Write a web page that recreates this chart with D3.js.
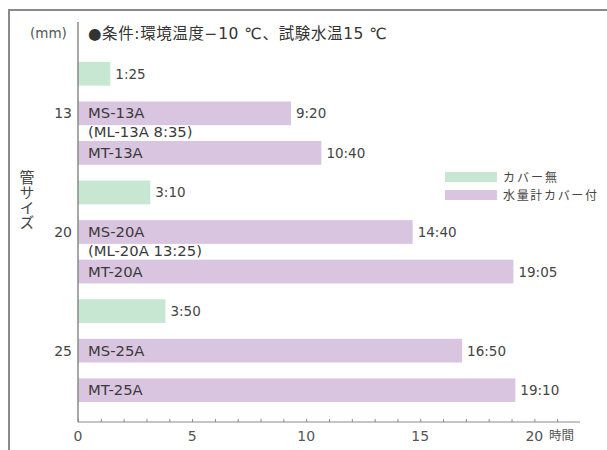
<!DOCTYPE html>
<html><head><meta charset="utf-8">
<script src="https://cdn.jsdelivr.net/npm/d3@7"></script>
<style>
html,body{margin:0;padding:0;background:#fff;}
svg{display:block;font-family:"DejaVu Sans","Noto Sans CJK JP",sans-serif;}
.cjk{font-family:"Noto Sans CJK JP",sans-serif;}
</style></head>
<body><svg id="c" width="607" height="450"></svg>
<script>
// ---- data ----
const sizes = ["13", "20", "25"];
const noCoverTimes = ["1:25", "3:10", "3:50"];
const msModels = ["MS-13A", "MS-20A", "MS-25A"];
const msTimes = ["9:20", "14:40", "16:50"];
const mlNotes = ["(ML-13A 8:35)", "(ML-20A 13:25)", ""];
const mtModels = ["MT-13A", "MT-20A", "MT-25A"];
const mtTimes = ["10:40", "19:05", "19:10"];
const majorTicks = [0, 5, 10, 15, 20];
const legendLabels = ["カバー無", "水量計カバー付"];
const titleText = "●条件:環境温度−10 ℃、試験水温15 ℃";

const toHours = s => { const [h, m] = s.split(":").map(Number); return h + m / 60; };

const rows = [];
sizes.forEach((s, i) => {
  rows.push({id: s + "-n", type: "none", time: noCoverTimes[i], name: ""});
  rows.push({id: s + "-ms", type: "cover", time: msTimes[i], name: msModels[i], note: mlNotes[i], size: s});
  rows.push({id: s + "-mt", type: "cover", time: mtTimes[i], name: mtModels[i]});
});

const svg = d3.select("#c");
const x = d3.scaleLinear().domain([0, 22]).range([78, 580]);
const y = d3.scaleBand().domain(rows.map(r => r.id)).range([54, 410]).paddingInner(0.4).paddingOuter(0.2);
const colors = {none: "#c8e7d3", cover: "#dac5e0"};

// frame
svg.append("path").attr("d", "M9,450 V10 H607").attr("fill", "none").attr("stroke", "#8a8a8a").attr("stroke-width", 2);

// bars
svg.append("g").selectAll("rect").data(rows).join("rect")
  .attr("x", x(0)).attr("y", d => y(d.id))
  .attr("width", d => x(toHours(d.time)) - x(0))
  .attr("height", y.bandwidth())
  .attr("fill", d => colors[d.type]);

// value labels
svg.append("g").selectAll("text").data(rows).join("text")
  .attr("x", d => x(toHours(d.time)) + 5)
  .attr("y", d => y(d.id) + y.bandwidth() / 2 + 5)
  .attr("font-size", 13.5).attr("fill", "#444")
  .text(d => d.time);

// model names
svg.append("g").selectAll("text").data(rows.filter(r => r.name)).join("text")
  .attr("x", 88).attr("y", d => y(d.id) + y.bandwidth() / 2 + 5)
  .attr("font-size", 14.8).attr("fill", "#3a3a3a")
  .text(d => d.name);

// notes
svg.append("g").selectAll("text").data(rows.filter(r => r.note)).join("text")
  .attr("x", 88).attr("y", d => y(d.id) + y.bandwidth() / 2 + 24)
  .attr("font-size", 14.8).attr("fill", "#3a3a3a")
  .text(d => d.note);

// size labels
svg.append("g").selectAll("text").data(rows.filter(r => r.size)).join("text")
  .attr("x", 72).attr("y", d => y(d.id) + y.bandwidth() / 2 + 5)
  .attr("text-anchor", "end").attr("font-size", 14).attr("fill", "#444")
  .text(d => d.size);

// y axis line
svg.append("line").attr("x1", x(0)).attr("x2", x(0)).attr("y1", 22).attr("y2", 422)
  .attr("stroke", "#8a8a8a").attr("stroke-width", 1.5);

// x axis
const xa = svg.append("g").attr("transform", "translate(0,422)")
  .call(d3.axisBottom(x).tickValues(d3.range(0, 22)).tickSize(3).tickFormat(""));
xa.select(".domain").attr("stroke", "#8a8a8a").attr("d", `M${x(0)},0H580`);
xa.selectAll(".tick line").attr("stroke", "#8a8a8a").attr("y1", -3).attr("y2", 0);
svg.append("g").selectAll("text").data(majorTicks).join("text")
  .attr("x", d => x(d)).attr("y", 441).attr("text-anchor", "middle")
  .attr("font-size", 14).attr("fill", "#555").text(d => d);
svg.append("text").attr("class", "cjk").attr("x", 549).attr("y", 440).attr("font-size", 12.5).attr("fill", "#555").text("時間");

// title and unit
svg.append("text").attr("x", 30).attr("y", 38).attr("font-size", 13.5).attr("fill", "#555").text("(mm)");
svg.append("text").attr("x", 88).attr("y", 39).attr("font-size", 15.5).attr("fill", "#333")
  .attr("textLength", 299).attr("lengthAdjust", "spacing").text(titleText);

// vertical axis label
svg.append("text").attr("class", "cjk").attr("x", 27).attr("y", 170)
  .attr("font-size", 15).attr("fill", "#444")
  .style("writing-mode", "vertical-rl").style("text-orientation", "upright")
  .text("管サイズ");

// legend
const lg = svg.append("g");
["none", "cover"].forEach((k, i) => {
  lg.append("rect").attr("x", 445).attr("y", 172 + i * 18).attr("width", 52).attr("height", 10).attr("fill", colors[k]);
  lg.append("text").attr("class", "cjk").attr("x", 503).attr("y", 181.5 + i * 18).attr("font-size", 12)
    .attr("fill", "#444").attr("textLength", i ? 94 : 54).attr("lengthAdjust", "spacing").text(legendLabels[i]);
});
</script></body></html>
